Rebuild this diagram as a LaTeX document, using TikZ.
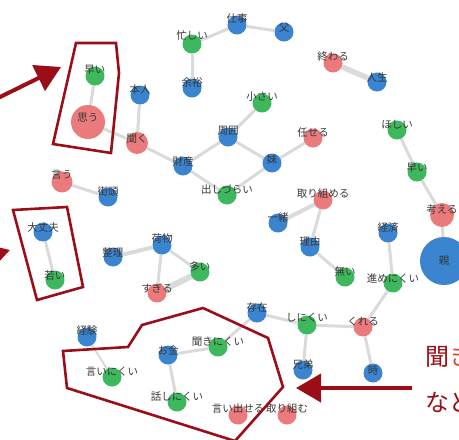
\documentclass[tikz,border=0pt]{standalone}
\usepackage{fontspec}
\newfontfamily\jp{Noto Sans CJK JP}
\usetikzlibrary{arrows.meta}
\pgfdeclarelayer{bg}\pgfdeclarelayer{fg}
\pgfsetlayers{bg,main,fg}
\definecolor{nblue}{RGB}{58,132,208}
\definecolor{nred}{RGB}{234,122,124}
\definecolor{ngreen}{RGB}{62,184,92}
\definecolor{edgec}{RGB}{218,218,218}
\definecolor{anno}{RGB}{155,14,24}
\definecolor{annoor}{RGB}{222,70,40}
\definecolor{labc}{RGB}{55,55,55}
\tikzset{
 vtx/.style={circle, inner sep=0pt, minimum size=19pt},
 bl/.style={vtx, fill=nblue},
 rd/.style={vtx, fill=nred},
 gr/.style={vtx, fill=ngreen},
 lab/.style={font=\jp\fontsize{10.5}{11}\selectfont, text=labc, inner sep=0pt},
 edge/.style={draw=edgec, line width=3pt},
 thick edge/.style={draw=edgec, line width=5.5pt},
 annobox/.style={draw=anno, line width=2.6pt, line join=miter},
 bigarrow/.style={draw=anno, line width=4pt, -{Triangle[length=25pt,width=28pt]}},
 annotext/.style={font=\jp\fontsize{24}{26}\selectfont, text=anno, inner sep=0pt, anchor=west},
}
\newcommand\gnode[6]{%
 \node[#1] (#2) at (#3,#4) {};
 \begin{pgfonlayer}{fg}\node[lab] (#2l) at ([yshift=#6pt]#2.center) {#5};\end{pgfonlayer}}
\begin{document}
\begin{tikzpicture}[x=1pt,y=-1pt]
\useasboundingbox (0,0) rectangle (459,440);
\clip (0,0) rectangle (459,440);
% nodes
\gnode{gr}{hayaiA}{95}{76}{早い}{6}
\gnode{rd,minimum size=34pt}{omou}{88}{122}{思う}{4}
\gnode{bl}{honnin}{140}{95}{本人}{5}
\gnode{rd,minimum size=22pt}{kiku}{137}{143}{聞く}{4}
\gnode{bl}{shigoto}{237}{25}{仕事}{6}
\gnode{bl}{chichi}{284}{32}{父}{4}
\gnode{gr}{isogashii}{192}{44}{忙しい}{8}
\gnode{bl}{yoyu}{192}{88}{余裕}{5}
\gnode{gr}{chiisai}{262}{103}{小さい}{6}
\gnode{bl}{shui}{228}{137}{周囲}{6}
\gnode{bl}{zaisan}{183}{166}{財産}{4}
\gnode{bl}{imouto}{272}{163}{妹}{3}
\gnode{gr}{dashizurai}{227}{195}{出しづらい}{5}
\gnode{rd}{makaseru}{313}{138}{任せる}{5}
\gnode{rd}{owaru}{333}{63}{終わる}{6}
\gnode{bl}{jinsei}{377}{82}{人生}{5}
\gnode{gr}{hoshii}{397}{130}{ほしい}{5}
\gnode{gr}{hayaiB}{417}{172}{早い}{4}
\gnode{rd,minimum size=24pt}{kangaeru}{442}{215}{考える}{5}
\gnode{bl,minimum size=48pt}{oya}{444}{261}{親}{0}
\gnode{rd}{torikumeru}{323}{200}{取り組める}{6}
\gnode{bl}{issho}{278}{223}{一緒}{5}
\gnode{bl}{riyu}{310}{247}{理由}{5}
\gnode{gr}{nai}{345}{277}{無い}{5}
\gnode{bl}{keizai}{388}{233}{経済}{5}
\gnode{gr}{susume}{393}{283}{進めにくい}{5}
\gnode{rd}{kureru}{363}{327}{くれる}{5}
\gnode{bl}{toki}{373}{373}{時}{3}
\gnode{gr}{shinikui}{307}{325}{しにくい}{7}
\gnode{bl}{kyodai}{303}{370}{兄弟}{5}
\gnode{bl}{sonzai}{257}{313}{存在}{5}
\gnode{gr}{kikinikui}{218}{347}{聞きにくい}{5}
\gnode{bl}{okane}{168}{355}{お金}{5}
\gnode{gr}{hanashi}{177}{402}{話しにくい}{5}
\gnode{rd}{iidaseru}{238}{415}{言い出せる}{6}
\gnode{rd}{torikumu}{287}{415}{取り組む}{6}
\gnode{bl}{keiken}{87}{337}{経験}{6}
\gnode{gr}{iinikui}{112}{377}{言いにくい}{5}
\gnode{rd,minimum size=21pt}{iu}{62}{182}{言う}{7}
\gnode{bl}{gaito}{108}{197}{街頭}{5}
\gnode{bl}{daijobu}{43}{232}{大丈夫}{4}
\gnode{gr}{wakai}{55}{280}{若い}{5}
\gnode{bl}{seiri}{113}{257}{整理}{5}
\gnode{bl}{nimotsu}{162}{245}{荷物}{6}
\gnode{gr}{ooi}{200}{272}{多い}{5}
\gnode{rd}{sugiru}{157}{293}{すぎる}{5}
% edges
\begin{pgfonlayer}{bg}
\draw[edge] (hayaiA) -- (omou);
\draw[edge] (omou) -- (kiku);
\draw[edge] (honnin) -- (kiku);
\draw[edge] (kiku) -- (zaisan);
\draw[edge] (zaisan) -- (shui);
\draw[edge] (zaisan) -- (dashizurai);
\draw[edge] (shui) -- (chiisai);
\draw[edge] (shui) -- (imouto);
\draw[edge] (imouto) -- (makaseru);
\draw[edge] (imouto) -- (dashizurai);
\draw[edge] (shigoto) -- (isogashii);
\draw[edge] (shigoto) -- (chichi);
\draw[edge] (isogashii) -- (yoyu);
\draw[thick edge] (owaru) -- (jinsei);
\draw[edge] (hoshii) -- (hayaiB);
\draw[edge] (hayaiB) -- (kangaeru);
\draw[edge] (kangaeru) -- (oya);
\draw[line width=4pt,draw=edgec] (torikumeru) -- (issho);
\draw[edge] (torikumeru) -- (riyu);
\draw[edge] (riyu) -- (nai);
\draw[edge] (keizai) -- (susume);
\draw[edge] (susume) -- (kureru);
\draw[edge] (shinikui) -- (kureru);
\draw[edge] (kureru) -- (toki);
\draw[edge] (shinikui) -- (kyodai);
\draw[edge] (shinikui) -- (sonzai);
\draw[edge] (sonzai) -- (kikinikui);
\draw[edge] (kikinikui) -- (okane);
\draw[edge] (okane) -- (hanashi);
\draw[line width=2pt,draw=edgec] (keiken) -- (iinikui);
\draw[edge] (iu) -- (gaito);
\draw[edge] (daijobu) -- (wakai);
\draw[line width=4pt,draw=edgec] (seiri) -- (nimotsu);
\draw[edge] (nimotsu) -- (ooi);
\draw[edge] (nimotsu) -- (sugiru);
\draw[line width=6pt,draw=edgec] (ooi) -- (sugiru);
\end{pgfonlayer}
% annotations
\begin{pgfonlayer}{fg}
\draw[annobox] (76,43) -- (116,43) -- (119,73) -- (111,153) -- (53,144) -- cycle;
\draw[annobox] (13,210) -- (67,207) -- (83,287) -- (37,300) -- cycle;
\draw[annobox] (63,351) -- (128,347) -- (142,325) -- (203,308) -- (268,338) -- (283,387) -- (235,441) -- (67,388) -- cycle;
\coordinate (a1s) at (-4,99);
\coordinate (a1e) at (61,67);
\draw[bigarrow] (a1s) -- (a1e);
\coordinate (a2s) at (-50,268);
\coordinate (a2e) at (10,250);
\draw[bigarrow] (a2s) -- (a2e);
\coordinate (a3s) at (412,388);
\coordinate (a3e) at (296,388);
\draw[bigarrow] (a3s) -- (a3e);
\node[annotext] (t1) at (425,357) {聞\textcolor{annoor}{き}};
\node[annotext] (t2) at (425,402) {など};
\end{pgfonlayer}
\end{tikzpicture}
\end{document}
